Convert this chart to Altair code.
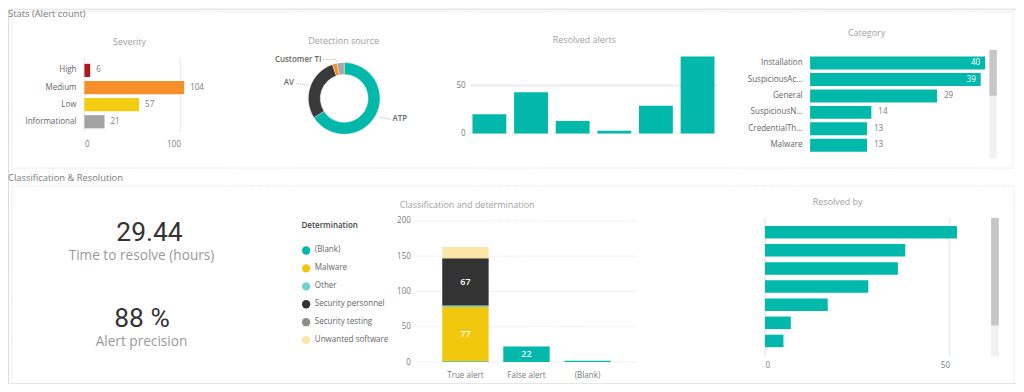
import altair as alt
import pandas as pd

# ---------------- data ----------------
severity = ["High", "Medium", "Low", "Informational"]
severity_counts = [6, 104, 57, 21]
severity_colors = ["#b3151d", "#f58f29", "#f2cd12", "#a2a2a2"]

sources = ["ATP", "AV", "Customer TI", "Other"]
source_counts = [124, 54, 4, 6]
source_colors = ["#01b8aa", "#3a3a3a", "#f58f29", "#a8a8a8"]

resolved_periods = ["P1", "P2", "P3", "P4", "P5", "P6"]
resolved_counts = [20, 43, 13, 3, 29, 80]

categories = ["Installation", "SuspiciousAc...", "General", "SuspiciousN...",
              "CredentialTh...", "Malware"]
category_counts = [40, 39, 29, 14, 13, 13]

classifications = ["True alert", "False alert", "(Blank)"]
determinations = ["(Blank)", "Malware", "Other", "Security personnel",
                  "Security testing", "Unwanted software"]
determination_colors = ["#01b8aa", "#f2c80f", "#6fd3cb", "#333333",
                        "#8d8d8d", "#fbe6a8"]
true_alert_counts = [1, 77, 2, 67, 0, 16]
false_alert_counts = [22, 0, 0, 0, 0, 0]
blank_class_counts = [2, 0, 0, 0, 0, 0]

resolvers = ["R1", "R2", "R3", "R4", "R5", "R6", "R7"]
resolver_counts = [52, 38, 36, 28, 17, 7, 5]

kpi_values = ["29.44", "88 %"]
kpi_labels = ["Time to resolve (hours)", "Alert precision"]

section_titles = ["Stats (Alert count)", "Classification & Resolution"]
chart_titles = ["Severity", "Detection source", "Resolved alerts", "Category",
                "Classification and determination", "Resolved by"]

# ---------------- layout helpers ----------------
W, H = 1012, 376
FONT = "Segoe UI, Open Sans, sans-serif"
TEAL = "#01b8aa"
LBL = 8.1        # small label font size
TTL = 9          # visual title font size


def P(v):
    # page coordinate -> chart coordinate (page has an 8px margin)
    return v - 8


ONE = alt.Data(values=[{}])


def txt(s, x, y, size=TTL, color="#a0a0a0", align="center", weight="normal",
        font=FONT, baseline="middle"):
    return alt.Chart(ONE).mark_text(
        text=s, align=align, baseline=baseline, fontSize=size, color=color,
        fontWeight=weight, font=font
    ).encode(x=alt.value(P(x)), y=alt.value(P(y)))


def box(x1, y1, x2, y2, fill="#ffffff", stroke=None, dash=None, fill_opacity=1):
    kw = dict(fill=fill, fillOpacity=fill_opacity)
    if stroke:
        kw["stroke"] = stroke
        kw["strokeWidth"] = 1
    if dash:
        kw["strokeDash"] = dash
    return alt.Chart(ONE).mark_rect(**kw).encode(
        x=alt.value(P(x1)), x2=alt.value(P(x2)),
        y=alt.value(P(y1)), y2=alt.value(P(y2)))


def seg(x1, y1, x2, y2, color="#b5b5b5", width=1, dash=None):
    kw = dict(color=color, strokeWidth=width)
    if dash:
        kw["strokeDash"] = dash
    return alt.Chart(ONE).mark_rule(**kw).encode(
        x=alt.value(P(x1)), x2=alt.value(P(x2)),
        y=alt.value(P(y1)), y2=alt.value(P(y2)))


def ax(orient, offset, **kw):
    base = dict(orient=orient, offset=offset, domain=False, ticks=False,
                tickSize=0, grid=False, title=None, labelPadding=0,
                labelFont=FONT, labelColor="#7a7a7a", labelFontSize=LBL)
    base.update(kw)
    return alt.Axis(**base)


layers = []

# ---------------- frames & section titles ----------------
layers.append(box(12, 11, 1017, 168, fill="#ffffff", stroke="#dedede", dash=[1, 1], fill_opacity=0))
layers.append(box(12, 186, 1018, 388, fill="#ffffff", stroke="#dedede", dash=[1, 1], fill_opacity=0))
layers.append(txt(section_titles[0], 8, 13, size=9.4, color="#7a7a7a", align="left"))
layers.append(txt(section_titles[1], 8, 178, size=9.4, color="#7a7a7a", align="left"))

# ---------------- Severity ----------------
sev_df = pd.DataFrame({"sev": severity, "n": severity_counts})
sev_y = alt.Scale(domain=severity, range=[P(61.3), P(130.1)], paddingInner=0.23, paddingOuter=0.115)
sev_x = alt.Scale(domain=[0, 100], range=[P(84.7), P(181)], nice=False, zero=False)
layers.append(txt(chart_titles[0], 130, 41))
layers.append(alt.Chart(pd.DataFrame({"v": [0, 100]})).mark_rule(color="#ededed", strokeWidth=1.5).encode(
    x=alt.X("v:Q", scale=sev_x, axis=None), y=alt.value(P(57)), y2=alt.value(P(132))))
layers.append(alt.Chart(sev_df).mark_bar().encode(
    y=alt.Y("sev:N", scale=sev_y, sort=severity,
            axis=ax("left", -P(76.3), labelColor="#666666")),
    x=alt.X("n:Q", scale=sev_x, axis=ax("bottom", P(144) - H, values=[0, 100], labelBaseline="middle")),
    color=alt.Color("sev:N", scale=alt.Scale(domain=severity, range=severity_colors), legend=None)))
layers.append(alt.Chart(sev_df).mark_text(align="left", dx=6, baseline="middle", fontSize=LBL,
                                          color="#7a7a7a", font=FONT).encode(
    y=alt.Y("sev:N", scale=sev_y, axis=None),
    x=alt.X("n:Q", scale=sev_x, axis=None),
    text="n:Q"))

# ---------------- Detection source ----------------
src_df = pd.DataFrame({"src": sources, "n": source_counts, "o": list(range(len(sources)))})
layers.append(txt(chart_titles[1], 345, 40))
layers.append(alt.Chart(src_df).mark_arc(innerRadius=24, outerRadius=36, stroke="white", strokeWidth=0.4).encode(
    theta=alt.Theta("n:Q", stack=True),
    color=alt.Color("src:N", scale=alt.Scale(domain=sources, range=source_colors), legend=None),
    order=alt.Order("o:Q"),
    x=alt.value(P(345.5)), y=alt.value(P(98))))
layers.append(seg(324, 59, 337, 59, dash=[1, 1]))
layers.append(seg(337, 59, 339, 62, dash=[1, 1]))
layers.append(seg(297, 83, 311, 85, dash=[1, 1]))
layers.append(seg(381, 117, 392, 119, dash=[1, 1]))
layers.append(txt(sources[2], 322.7, 59, size=8, color="#666666", align="right", weight=600))
layers.append(txt(sources[1], 295, 83, size=8, color="#666666", align="right", weight=600))
layers.append(txt(sources[0], 394, 119, size=8, color="#666666", align="left", weight=600))

# ---------------- Resolved alerts ----------------
ra_df = pd.DataFrame({"p": resolved_periods, "n": resolved_counts})
ra_x = alt.Scale(domain=resolved_periods, range=[P(470.4), P(721.2)], paddingInner=0.187, paddingOuter=0.0935)
ra_y = alt.Scale(domain=[0, 50], range=[P(133.3), P(85)], nice=False, zero=False)
layers.append(txt(chart_titles[2], 586.7, 39.3))
layers.append(alt.Chart(pd.DataFrame({"v": [50]})).mark_rule(color="#ececec", strokeWidth=2).encode(
    y=alt.Y("v:Q", scale=ra_y, axis=None), x=alt.value(P(472)), x2=alt.value(P(721))))
layers.append(alt.Chart(pd.DataFrame({"v": [0]})).mark_rule(color="#cfcfcf", strokeWidth=1, strokeDash=[1, 2]).encode(
    y=alt.Y("v:Q", scale=ra_y, axis=None), x=alt.value(P(472)), x2=alt.value(P(721))))
layers.append(alt.Chart(ra_df).mark_bar(color=TEAL).encode(
    x=alt.X("p:N", scale=ra_x, sort=resolved_periods, axis=None),
    y=alt.Y("n:Q", scale=ra_y, axis=ax("left", -P(467), values=[0, 50]))))

# ---------------- Category ----------------
cat_df = pd.DataFrame({"c": categories, "n": category_counts})
cat_y = alt.Scale(domain=categories, range=[P(54.3), P(153.3)], paddingInner=0.21, paddingOuter=0.105)
cat_x = alt.Scale(domain=[0, 40], range=[P(813.3), P(989)], nice=False, zero=False)
layers.append(txt(chart_titles[3], 870, 32.7))
layers.append(alt.Chart(cat_df).mark_bar(color=TEAL).encode(
    y=alt.Y("c:N", scale=cat_y, sort=categories,
            axis=ax("left", -P(805.3), labelColor="#666666")),
    x=alt.X("n:Q", scale=cat_x, axis=None)))
layers.append(alt.Chart(cat_df).transform_filter("datum.n >= 35").mark_text(
    align="right", dx=-5, baseline="middle", fontSize=LBL, color="white", font=FONT).encode(
    y=alt.Y("c:N", scale=cat_y, axis=None), x=alt.X("n:Q", scale=cat_x, axis=None), text="n:Q"))
layers.append(alt.Chart(cat_df).transform_filter("datum.n < 35").mark_text(
    align="left", dx=7, baseline="middle", fontSize=LBL, color="#7a7a7a", font=FONT).encode(
    y=alt.Y("c:N", scale=cat_y, axis=None), x=alt.X("n:Q", scale=cat_x, axis=None), text="n:Q"))
layers.append(box(993.3, 49.3, 1000.7, 158.3, fill="#f1f1f1"))
layers.append(box(993.3, 49.3, 1000.7, 95.3, fill="#c6c6c6"))

# ---------------- KPIs ----------------
layers.append(txt(kpi_values[0], 150, 233, size=26.5, color="#333333", font="Roboto, DejaVu Sans"))
layers.append(txt(kpi_labels[0], 142, 256.5, size=13.7, color="#9a9a9a"))
layers.append(txt(kpi_values[1], 142.5, 319.5, size=26.5, color="#333333", font="Roboto, DejaVu Sans"))
layers.append(txt(kpi_labels[1], 142, 342.5, size=13.7, color="#9a9a9a"))

# ---------------- Classification and determination ----------------
rows = []
for cls, counts in zip(classifications, [true_alert_counts, false_alert_counts, blank_class_counts]):
    for i, (d, n) in enumerate(zip(determinations, counts)):
        if n > 0:
            rows.append({"cls": cls, "det": d, "n": n, "o": i})
cls_df = pd.DataFrame(rows)
cls_x = alt.Scale(domain=classifications, range=[P(436.6), P(620.5)], paddingInner=0.24, paddingOuter=0.12)
cls_y = alt.Scale(domain=[0, 200], range=[P(362.7), P(221)], nice=False, zero=False)
det_color = alt.Scale(domain=determinations, range=determination_colors)
layers.append(txt(chart_titles[4], 469, 205))
layers.append(alt.Chart(pd.DataFrame({"v": [0, 50, 100, 150, 200]})).mark_rule(
    color="#e3e3e3", strokeWidth=1, strokeDash=[1, 1]).encode(
    y=alt.Y("v:Q", scale=cls_y, axis=None), x=alt.value(P(418)), x2=alt.value(P(640))))
layers.append(alt.Chart(cls_df).mark_bar().encode(
    x=alt.X("cls:N", scale=cls_x, sort=classifications,
            axis=ax("bottom", P(376) - H, labelBaseline="middle", labelAngle=0, labelAlign="center")),
    y=alt.Y("n:Q", stack="zero", scale=cls_y,
            axis=ax("left", -P(412), values=[0, 50, 100, 150, 200])),
    color=alt.Color("det:N", scale=det_color, legend=None),
    order=alt.Order("o:Q")))
layers.append(alt.Chart(cls_df).transform_stack(
    stack="n", groupby=["cls"], sort=[alt.SortField("o")], as_=["y0", "y1"]
).transform_calculate(mid="(datum.y0 + datum.y1) / 2").transform_filter("datum.n >= 20").mark_text(
    align="center", baseline="middle", fontSize=9, color="white", fontWeight=600, font=FONT).encode(
    x=alt.X("cls:N", scale=cls_x, axis=None),
    y=alt.Y("mid:Q", scale=cls_y, axis=None),
    text="n:Q"))
# legend
det_df = pd.DataFrame({"det": determinations})
leg_y = alt.Scale(type="point", domain=determinations, range=[P(250.7), P(340.7)], padding=0)
layers.append(txt("Determination", 302.7, 226, size=8, color="#444444", align="left", weight=600))
layers.append(alt.Chart(det_df).mark_circle(size=70, opacity=1).encode(
    y=alt.Y("det:N", scale=leg_y, axis=None), x=alt.value(P(307.3)),
    color=alt.Color("det:N", scale=det_color, legend=None)))
layers.append(alt.Chart(det_df).mark_text(align="left", baseline="middle", fontSize=LBL,
                                          color="#666666", font=FONT).encode(
    y=alt.Y("det:N", scale=leg_y, axis=None), x=alt.value(P(316)), text="det:N"))

# ---------------- Resolved by ----------------
rb_df = pd.DataFrame({"r": resolvers, "n": resolver_counts})
rb_y = alt.Scale(domain=resolvers, range=[P(223.2), P(350.6)], paddingInner=0.31, paddingOuter=0.155)
rb_x = alt.Scale(domain=[0, 50], range=[P(768), P(953.3)], nice=False, zero=False)
layers.append(txt(chart_titles[5], 841, 202.3))
layers.append(alt.Chart(pd.DataFrame({"v": [0, 50]})).mark_rule(color="#eeeeee", strokeWidth=2).encode(
    x=alt.X("v:Q", scale=rb_x, axis=None), y=alt.value(P(218)), y2=alt.value(P(357))))
layers.append(alt.Chart(rb_df).mark_bar(color=TEAL).encode(
    y=alt.Y("r:N", scale=rb_y, sort=resolvers, axis=None),
    x=alt.X("n:Q", scale=rb_x, axis=ax("bottom", P(366) - H, values=[0, 50], labelBaseline="middle"))))
layers.append(box(995, 218, 1002.7, 356.7, fill="#f1f1f1"))
layers.append(box(995, 218, 1002.7, 326, fill="#c6c6c6"))

chart = alt.layer(*layers).resolve_scale(
    x="independent", y="independent", color="independent"
).properties(
    width=W, height=H, padding=0, autosize=alt.AutoSizeParams(type="none")
).configure_view(strokeWidth=0).configure(background="white")

chart.save("out.html", embed_options={"renderer": "svg", "actions": False})
